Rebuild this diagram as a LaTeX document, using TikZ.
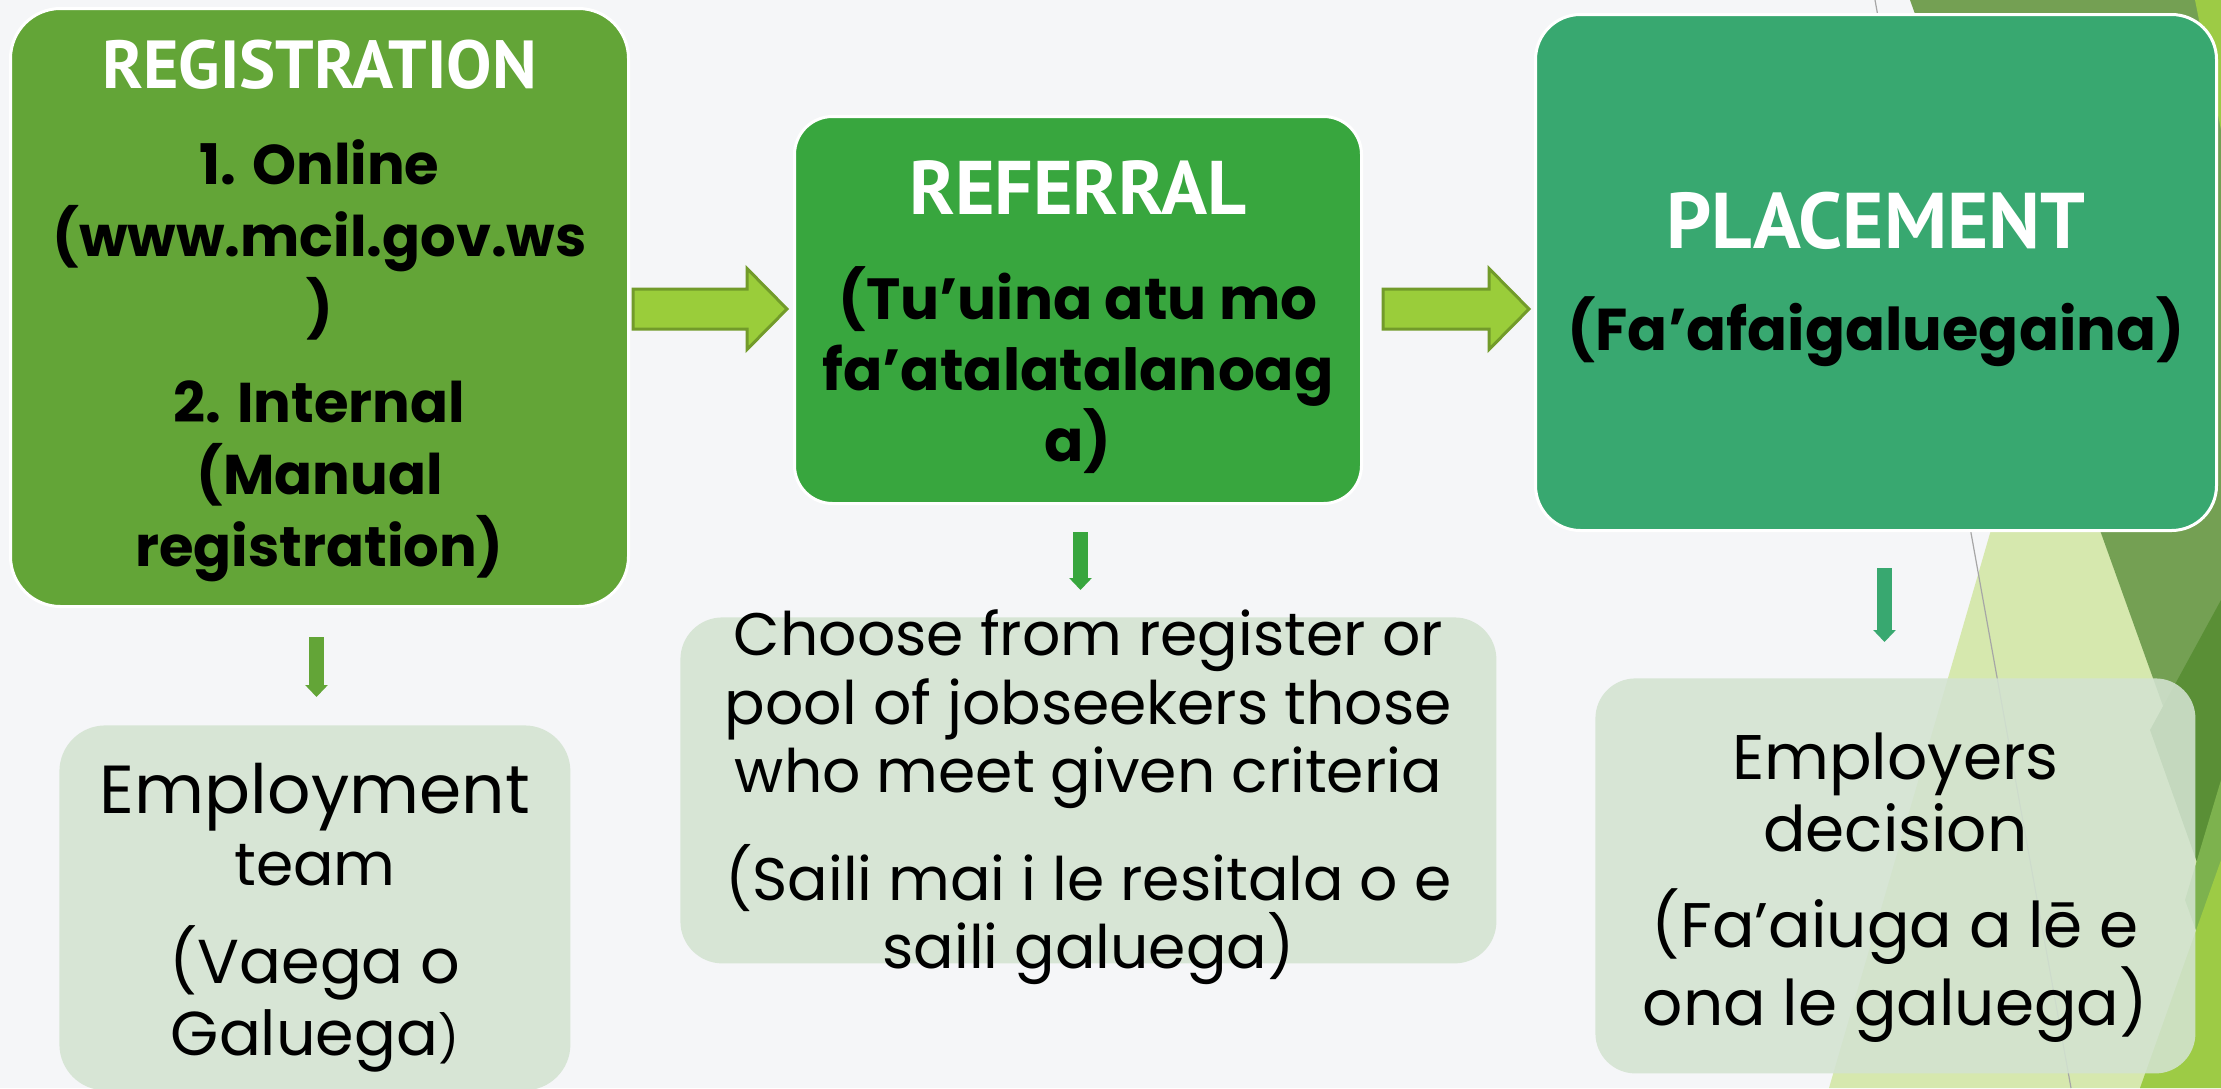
\documentclass[tikz,border=0pt]{standalone}
\usepackage{fontspec}
\setmainfont{Poppins}
\newfontfamily\titlefnt{PT Sans}
\usetikzlibrary{arrows.meta,calc}
\definecolor{bgc}{HTML}{F5F6F8}
\definecolor{regc}{HTML}{63A537}
\definecolor{refc}{HTML}{38A63E}
\definecolor{plc}{HTML}{38A870}
\definecolor{lowc}{HTML}{D3E3D1}
\definecolor{arrf}{HTML}{9ACD3A}
\definecolor{arrd}{HTML}{729B2A}
\definecolor{olivec}{HTML}{74A053}
\definecolor{palec}{HTML}{D6E8AE}
\definecolor{dkgc}{HTML}{5A8F36}
\definecolor{midgc}{HTML}{7DB24E}
\definecolor{brgc}{HTML}{9DCB45}
\tikzset{
  topbox/.style={rounded corners=#1, draw=white, line width=1.5pt, anchor=north west, inner sep=0pt},
  lowbox/.style={rounded corners=#1, fill=lowc, fill opacity=0.88, anchor=north west, inner sep=0pt},
  bodyb/.style={align=center, inner sep=0pt, text=black, font=\bfseries},
  bodyr/.style={align=center, inner sep=0pt, text=black},
  rarr/.style={fill=arrf, draw=arrd, line width=1.5pt, line join=miter},
  darr/.style={draw=#1, line width=7.5pt, -{Triangle[length=6pt,width=11pt]}},
  pics/rblock/.style={code={\draw[rarr] (0,-20) -- (#1,-20) -- (#1,-40.5) -- ({#1+40},0) -- (#1,40.5) -- (#1,20) -- (0,20) -- cycle;}}
}
\begin{document}
\begin{tikzpicture}[x=0.5pt,y=-0.5pt]
% background
\fill[bgc] (0,0) rectangle (2221,1088);
\useasboundingbox (0,0) rectangle (2221,1088);
% decoration on the right
\fill[palec] (2040,361) -- (2221,868) -- (2221,1088) -- (1829,1088) -- cycle;
\fill[olivec] (1910,0) -- (2221,0) -- (2221,868) -- cycle;
\fill[brgc] (2195,0) -- (2221,0) -- (2221,130) -- cycle;
\fill[dkgc] (2221,600) -- (2150,730) -- (2221,930) -- cycle;
\fill[midgc] (2221,780) -- (2185,900) -- (2221,1000) -- cycle;
\fill[brgc] (2221,860) -- (2221,1088) -- (2140,1088) -- cycle;
\draw[gray!70, line width=0.6pt] (1875,0) -- (2071,1088);

% top boxes
\node[topbox=25pt, fill=regc, minimum width=309pt, minimum height=299pt] (reg) at (9,7) {};
\node[topbox=19pt, fill=refc, minimum width=283.5pt, minimum height=193.5pt] (ref) at (793,115) {};
\node[topbox=22.5pt, fill=plc, minimum width=340.5pt, minimum height=258pt] (plc) at (1534,13) {};

% lower boxes
\node[lowbox=23pt, minimum width=255.5pt, minimum height=182.5pt] (emp) at (59,725) {};
\node[lowbox=21pt, minimum width=408pt, minimum height=173pt] (cho) at (680,617) {};
\node[lowbox=20pt, minimum width=300pt, minimum height=197.5pt] (eml) at (1595,678) {};

% texts of the top boxes
\node[bodyb, font=\bfseries\fontsize{28pt}{36pt}\selectfont] (regt) at ([yshift=-1.5pt]reg.center)
  {{\titlefnt\bfseries\fontsize{34pt}{36pt}\selectfont\color{white}REGISTRATION}\\[12pt]
   1. Online\\ (www.mcil.gov.ws\\ )\\[11pt] 2. Internal\\ (Manual\\ registration)};
\node[bodyb, font=\bfseries\fontsize{29pt}{35.5pt}\selectfont] (reft) at ([yshift=-3.5pt]ref.center)
  {{\titlefnt\bfseries\fontsize{38pt}{36pt}\selectfont\color{white}REFERRAL}\\[17pt]
   (Tu’uina atu mo\\ fa’atalatalanoag\\ a)};
\node[bodyb, font=\bfseries\fontsize{29.5pt}{36pt}\selectfont] (plct) at ([yshift=-3.5pt]plc.center)
  {{\titlefnt\bfseries\fontsize{39.5pt}{36pt}\selectfont\color{white}PLACEMENT}\\[15pt]
   (Fa’afaigaluegaina)};

% texts of the lower boxes
\node[bodyr, font=\fontsize{31pt}{36pt}\selectfont] (empt) at ([yshift=-5pt]emp.center)
  {{\fontsize{34pt}{36pt}\selectfont Employment}\\ {\fontsize{30pt}{36pt}\selectfont team}\\[13pt]
   (Vaega o\\ Galuega{\fontsize{23pt}{36pt}\selectfont )}};
\node[bodyr, font=\fontsize{30pt}{34.25pt}\selectfont] (chot) at ([yshift=-3.5pt]cho.center)
  {Choose from register or\\ pool of jobseekers those\\ who meet given criteria\\[16.75pt]
   (Saili mai i le resitala o e\\ saili galuega)};
\node[bodyr, font=\fontsize{31.5pt}{36pt}\selectfont] (emlt) at ([yshift=-6pt]eml.center)
  {Employers\\ decision\\[12pt] (Fa’aiuga a lē e\\ ona le galuega)};

% connectors
\pic (arr1) at (633,309) {rblock=114};
\pic (arr2) at (1383,309) {rblock=106};
\coordinate (d1s) at (316.5,637); \coordinate (d1e) at (316.5,697);
\coordinate (d2s) at (1080.5,532); \coordinate (d2e) at (1080.5,590);
\coordinate (d3s) at (1884.5,568); \coordinate (d3e) at (1884.5,642);
\draw[darr=regc] (d1s) -- (d1e);
\draw[darr=refc] (d2s) -- (d2e);
\draw[darr=plc] (d3s) -- (d3e);
\end{tikzpicture}
\end{document}
